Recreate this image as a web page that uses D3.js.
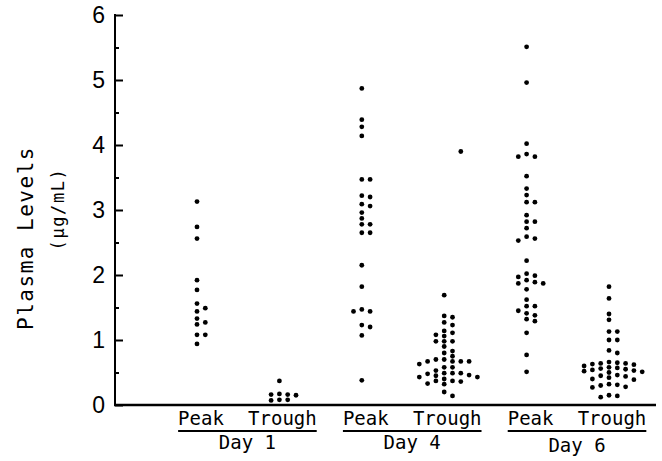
<!DOCTYPE html>
<html>
<head>
<meta charset="utf-8">
<script src="https://cdn.jsdelivr.net/npm/d3@7"></script>
<style>
	body { margin: 0; background: #ffffff; }
	svg { display: block; }
</style>
</head>
<body>
<script>
	// plasma levels (ug/mL)
	var days = [ "Day 1", "Day 4", "Day 6" ];
	var phases = [ "Peak", "Trough" ];
	var yTicks = [ 0, 1, 2, 3, 4, 5, 6 ];

	var day1Peak = [ 3.13, 2.74, 2.56, 1.92, 1.77, 1.56, 1.49, 1.44, 1.33, 1.27, 1.24, 1.08, 1.08, 0.94 ];
	var day1Trough = [ 0.37, 0.17, 0.16, 0.16, 0.15, 0.08, 0.08, 0.07 ];
	var day4Peak = [ 4.87, 4.39, 4.28, 4.14, 3.47, 3.47, 3.22, 3.20, 3.09, 3.06, 2.96, 2.87, 2.78, 2.78,
			2.65, 2.65, 2.15, 1.82, 1.47, 1.44, 1.44, 1.23, 1.20, 1.07, 0.38 ];
	var day4Trough = [ 1.69, 1.37, 1.35, 1.27, 1.23, 1.14, 1.11, 1.08, 1.06, 0.98, 0.98, 0.98, 0.90, 0.83,
			0.80, 0.75, 0.70, 0.70, 0.67, 0.67, 0.67, 0.67, 0.63, 0.58, 0.58, 0.53, 0.49, 0.49, 0.49, 0.48,
			0.46, 0.45, 0.43, 0.43, 0.40, 0.37, 0.37, 0.36, 0.33, 0.32, 0.20, 0.14 ];
	var day4TroughStray = [ 3.90 ]; // lone dot drawn off to the right of the trough column
	var day6Peak = [ 5.51, 4.96, 4.02, 3.86, 3.82, 3.82, 3.52, 3.33, 3.23, 3.12, 3.12, 2.92, 2.82, 2.82,
			2.72, 2.59, 2.56, 2.53, 2.22, 2.02, 1.99, 1.97, 1.92, 1.89, 1.87, 1.87, 1.78, 1.62, 1.52, 1.52,
			1.45, 1.41, 1.38, 1.32, 1.29, 1.11, 0.77, 0.51 ];
	var day6Trough = [ 1.82, 1.64, 1.40, 1.31, 1.13, 1.13, 1.00, 1.00, 0.84, 0.80, 0.66, 0.65, 0.64, 0.64,
			0.63, 0.62, 0.60, 0.58, 0.57, 0.56, 0.55, 0.54, 0.53, 0.52, 0.51, 0.50, 0.46, 0.45, 0.44, 0.42,
			0.40, 0.39, 0.32, 0.31, 0.30, 0.28, 0.27, 0.15, 0.14, 0.12 ];

	var groups = [
		{ day : "Day 1", phase : "Peak", values : day1Peak },
		{ day : "Day 1", phase : "Trough", values : day1Trough },
		{ day : "Day 4", phase : "Peak", values : day4Peak },
		{ day : "Day 4", phase : "Trough", values : day4Trough },
		{ day : "Day 6", phase : "Peak", values : day6Peak },
		{ day : "Day 6", phase : "Trough", values : day6Trough }
	];

	var width = 662, height = 461;
	var colStep = 8.3; // horizontal spacing of side-by-side dots
	var minGap = 5; // vertical room a dot needs in one column
	var dotR = 2.4;
	var monoFont = "'DejaVu Sans Mono', 'Liberation Mono', monospace";

	var svg = d3.select("body").append("svg")//
	.attr("width", width)//
	.attr("height", height);

	var y = d3.scaleLinear().domain([ 0, 6 ]).range([ 405, 15 ]);
	var x = d3.scalePoint()//
	.domain(groups.map(function(g) {
		return g.day + " " + g.phase;
	}))//
	.range([ 197, 609 ]);

	// greedy column layout: centre first, then right, left, further right...
	function swarm(values, cx) {
		var placed = [];
		return values.slice().sort(function(a, b) {
			return b - a;
		}).map(function(v) {
			var py = y(v);
			for (var k = 0;; k++) {
				var col = k == 0 ? 0 : (k % 2 ? (k + 1) / 2 : -k / 2);
				var hit = placed.some(function(p) {
					return p.col == col && Math.abs(p.y - py) < minGap;
				});
				if (!hit) {
					placed.push({ y : py, col : col });
					return { value : v, x : cx + col * colStep, y : py };
				}
			}
		});
	}

	var dots = [];
	groups.forEach(function(g) {
		dots = dots.concat(swarm(g.values, x(g.day + " " + g.phase)));
	});
	day4TroughStray.forEach(function(v) {
		dots.push({ value : v, x : x("Day 4 Trough") + 2 * colStep, y : y(v) });
	});

	// y axis: ticks on the inside, half-unit minor ticks
	var yAxis = svg.append("g").attr("transform", "translate(115,0)");
	yAxis.call(d3.axisRight(y).tickValues(yTicks).tickSize(8).tickFormat(""));
	yAxis.append("g").call(d3.axisRight(y).tickValues(d3.range(0.5, 6, 1)).tickSize(4).tickFormat(""));
	yAxis.selectAll("path.domain").remove();
	yAxis.selectAll("line").attr("stroke", "#000").attr("stroke-width", 2);
	yAxis.append("line")//
	.attr("x1", 0).attr("x2", 0)//
	.attr("y1", y(6) - 1).attr("y2", y(0))//
	.attr("stroke", "#000").attr("stroke-width", 2);

	svg.selectAll(".tick-label").data(yTicks).enter().append("text")//
	.attr("class", "tick-label")//
	.attr("x", 105)//
	.attr("y", function(d) {
		return y(d);
	})//
	.attr("dy", "0.36em")//
	.attr("text-anchor", "end")//
	.attr("fill", "#000")//
	.attr("font-family", "'Liberation Sans', Arial, sans-serif")//
	.attr("font-size", "23px")//
	.text(function(d) {
		return d;
	});

	// baseline
	svg.append("line")//
	.attr("x1", 114).attr("x2", 656)//
	.attr("y1", y(0)).attr("y2", y(0))//
	.attr("stroke", "#000").attr("stroke-width", 2.6);

	// y axis title
	svg.append("text")//
	.attr("transform", "translate(33,238) rotate(-90)")//
	.attr("text-anchor", "middle")//
	.attr("font-family", monoFont)//
	.attr("font-size", "21px")//
	.attr("letter-spacing", "1.5px")//
	.text("Plasma Levels");
	svg.append("text")//
	.attr("transform", "translate(64,209) rotate(-90)")//
	.attr("text-anchor", "middle")//
	.attr("font-family", monoFont)//
	.attr("font-size", "17px")//
	.attr("letter-spacing", "1.6px")//
	.text("(\u00b5g/mL)");

	// dots
	svg.selectAll(".dot").data(dots).enter().append("circle")//
	.attr("class", "dot")//
	.attr("cx", function(d) {
		return d.x;
	})//
	.attr("cy", function(d) {
		return d.y;
	})//
	.attr("r", dotR)//
	.attr("fill", "#000");

	// category labels under the axis
	days.forEach(function(day, i) {
		var g = svg.append("g");
		var texts = phases.map(function(phase) {
			return g.append("text")//
			.attr("x", x(day + " " + phase) + (phase == "Peak" ? 4 : 3))//
			.attr("y", 425)//
			.attr("text-anchor", "middle")//
			.attr("font-family", monoFont)//
			.attr("font-size", "19px")//
			.text(phase);
		});
		var b0 = texts[0].node().getBBox(), b1 = texts[1].node().getBBox();
		var left = b0.x, right = b1.x + b1.width;
		g.append("line")//
		.attr("x1", left).attr("x2", right)//
		.attr("y1", 431).attr("y2", 431)//
		.attr("stroke", "#000").attr("stroke-width", 2);
		g.append("text")//
		.attr("x", (left + right) / 2)//
		.attr("y", i == 2 ? 452 : 449)//
		.attr("text-anchor", "middle")//
		.attr("font-family", monoFont)//
		.attr("font-size", "19px")//
		.text(day);
	});
</script>
</body>
</html>
